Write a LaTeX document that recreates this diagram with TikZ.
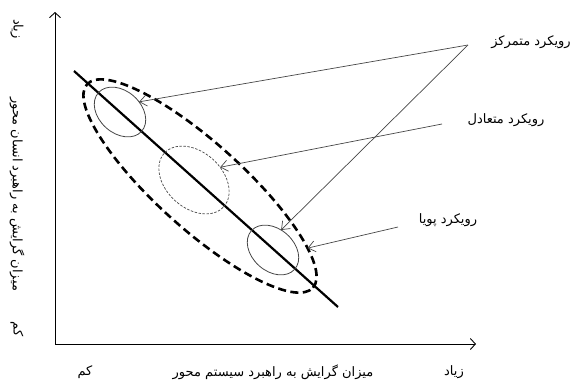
\documentclass[tikz,border=0pt]{standalone}
\usepackage{fontspec}
\usetikzlibrary{shapes.geometric,arrows.meta}
\newfontfamily\fa[Script=Arabic]{DejaVu Sans}
\TeXXeTstate=1
\definecolor{darkgr}{RGB}{70,70,70}
\begin{document}
\begin{tikzpicture}[x=1pt,y=-1pt,
  lbl/.style={font=\fa\fontsize{13}{15}\selectfont, inner sep=0pt},
  axis/.style={line width=0.9pt, {Straight Barb[length=5pt,width=11pt]}-{Straight Barb[length=5pt,width=11pt]}},
  ptr/.style={draw=darkgr, line width=0.7pt, -{Straight Barb[length=7pt,width=11pt]}},
  oval/.style={ellipse, rotate=-42, inner sep=0pt, outer sep=0pt}]
\useasboundingbox (0,0) rectangle (574,384);
% axes
\coordinate (o) at (55,344);
\coordinate (ytop) at (55,12);
\coordinate (xend) at (476,344);
\draw[axis] (ytop) -- (o) -- (xend);
% main line
\coordinate (l1) at (74,71);
\coordinate (l2) at (338,307);
\draw[line width=2.2pt] (l1) -- (l2);
% ellipses
\node[oval, draw, line width=2.6pt, dash pattern=on 8pt off 4.5pt,
      minimum width=304pt, minimum height=86pt] (big) at (200,186) {};
\node[oval, draw=darkgr, line width=0.8pt, minimum width=58pt, minimum height=42pt] (top) at (120,112) {};
\node[oval, draw=darkgr, line width=0.7pt, dash pattern=on 2.5pt off 1.5pt,
      minimum width=80pt, minimum height=56pt] (mid) at (194,180) {};
\node[oval, draw=darkgr, line width=0.8pt, minimum width=58pt, minimum height=42pt] (bot) at (273,250) {};
% labels
\node[lbl] (cen) at (531,42) {\beginR رویکرد متمرکز\endR};
\node[lbl] (bal) at (506,120) {\beginR رویکرد متعادل\endR};
\node[lbl] (dyn) at (448,220) {\beginR رویکرد پویا\endR};
\coordinate (a1) at (468,45);
\coordinate (a3) at (442,124);
\coordinate (a4) at (398,227);
\draw[ptr] (a1) -- (top.70);
\draw[ptr] (a1) -- (bot.110);
\draw[ptr] (a3) -- (mid.68);
\draw[ptr] (a4) -- (big.12);
% axis labels
\node[lbl] (xlow) at (85,372) {\beginR کم\endR};
\node[lbl] (xtitle) at (273,372) {\beginR میزان گرایش به راهبرد سیستم محور\endR};
\node[lbl] (xhigh) at (454,372) {\beginR زیاد\endR};
\node[lbl, rotate=-90] (yhigh) at (17,29) {\beginR زیاد\endR};
\node[lbl, rotate=-90] (ytitle) at (17,194) {\beginR میزان گرایش به راهبرد انسان محور\endR};
\node[lbl, rotate=-90] (ylow) at (17,329) {\beginR کم\endR};
\end{tikzpicture}
\end{document}
